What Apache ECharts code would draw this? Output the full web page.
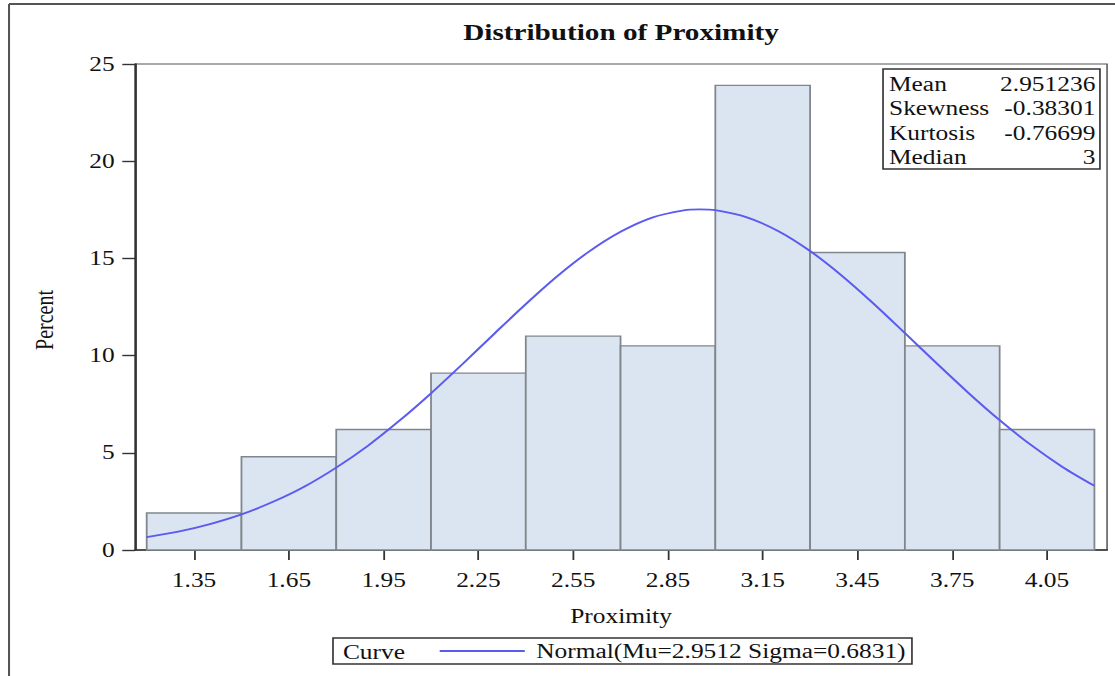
<!DOCTYPE html>
<html>
<head>
<meta charset="utf-8">
<script src="https://cdn.jsdelivr.net/npm/echarts@6/dist/echarts.min.js"></script>
<style>
  html, body { margin: 0; padding: 0; background: #fff; overflow: hidden; }
  #main { width: 878px; height: 676px; transform: scaleX(1.27); transform-origin: 0 0; }
</style>
</head>
<body>
<div id="main"></div>
<script>
// ---- data ----
const binMids = [1.35, 1.65, 1.95, 2.25, 2.55, 2.85, 3.15, 3.45, 3.75, 4.05];
const binWidth = 0.3;
const percents = [1.9, 4.8, 6.2, 9.1, 11.0, 10.5, 23.9, 15.3, 10.5, 6.2];
const curveX = [1.2, 1.3, 1.4, 1.5, 1.6, 1.7, 1.8, 1.9, 2.0, 2.1, 2.2, 2.3, 2.4, 2.5, 2.6, 2.7,
                2.8, 2.9, 2.95, 3.0, 3.1, 3.2, 3.3, 3.4, 3.5, 3.6, 3.7, 3.8, 3.9, 4.0, 4.1, 4.2];
const curveY = [0.66, 0.94, 1.33, 1.83, 2.48, 3.27, 4.24, 5.36, 6.65, 8.06, 9.57, 11.12, 12.65, 14.09, 15.35, 16.37,
                17.10, 17.47, 17.52, 17.48, 17.11, 16.40, 15.38, 14.12, 12.69, 11.16, 9.61, 8.10, 6.68, 5.39, 4.26, 3.30];
const xTickValues = [1.35, 1.65, 1.95, 2.25, 2.55, 2.85, 3.15, 3.45, 3.75, 4.05];
const xTickLabels = ['1.35', '1.65', '1.95', '2.25', '2.55', '2.85', '3.15', '3.45', '3.75', '4.05'];
const statsLabels = ['Mean', 'Skewness', 'Kurtosis', 'Median'];
const statsValues = ['2.951236', '-0.38301', '-0.76699', '3'];
const titleText = 'Distribution of Proximity';
const xName = 'Proximity';
const yName = 'Percent';
const legendTitle = 'Curve';
const curveName = 'Normal(Mu=2.9512 Sigma=0.6831)';

// ---- chart ----
const FONT = '"Liberation Serif", "DejaVu Serif", serif';
const chart = echarts.init(document.getElementById('main'), null, { renderer: 'svg' });

const barData = binMids.map((m, i) => [m - binWidth / 2, m + binWidth / 2, percents[i]]);
const lineData = curveX.map((x, i) => [x, curveY[i]]);

const statsGraphics = [];
statsGraphics.push({
  type: 'rect', shape: { x: 695.3, y: 69, width: 170.8, height: 100 },
  style: { fill: '#fff', stroke: '#333', lineWidth: 1.3 }, z: 100
});
statsLabels.forEach((lab, i) => {
  const y = 84.5 + i * 24.3;
  statsGraphics.push({
    type: 'text', x: 700, y: y, z: 101,
    style: { text: lab, font: '20px ' + FONT, fill: '#111', align: 'left', verticalAlign: 'middle' }
  });
  statsGraphics.push({
    type: 'text', x: 862.5, y: y, z: 101,
    style: { text: statsValues[i], font: '20px ' + FONT, fill: '#111', align: 'right', verticalAlign: 'middle' }
  });
});

const option = {
  backgroundColor: '#fff',
  animation: false,
  title: {
    text: titleText,
    left: 489, top: 21, textAlign: 'center', padding: 0,
    textStyle: { fontFamily: FONT, fontWeight: 'bold', fontSize: 23, color: '#111' }
  },
  grid: {
    left: 106.3, right: 6.3, top: 64, bottom: 126,
    show: true, borderColor: '#555', borderWidth: 1.2, backgroundColor: 'transparent'
  },
  legend: {
    left: 262.2, top: 638, orient: 'horizontal',
    padding: [3, 5, 3, 84],
    borderColor: '#333', borderWidth: 1.3,
    itemWidth: 67, itemHeight: 2,
    data: [{ name: curveName, icon: 'rect' }],
    textStyle: { fontFamily: FONT, fontSize: 20, color: '#111', padding: [0, 0, 0, 4] }
  },
  xAxis: {
    type: 'value', min: 1.163, max: 4.24,
    name: xName, nameLocation: 'middle', nameGap: 56,
    nameTextStyle: { fontFamily: FONT, fontSize: 20, color: '#111' },
    axisLine: { show: true, onZero: false, lineStyle: { color: '#333', width: 1.6 } },
    axisTick: { show: true, length: 10, customValues: xTickValues, lineStyle: { color: '#333', width: 1.4 } },
    axisLabel: {
      customValues: xTickValues, margin: 20,
      fontFamily: FONT, fontSize: 20, color: '#111',
      formatter: function (v) {
        const i = xTickValues.findIndex(t => Math.abs(t - v) < 1e-6);
        return i >= 0 ? xTickLabels[i] : '';
      }
    },
    splitLine: { show: false }
  },
  yAxis: {
    type: 'value', min: 0, max: 25, interval: 5,
    name: yName, nameLocation: 'middle', nameGap: 61,
    nameTextStyle: { fontFamily: FONT, fontSize: 20, color: '#111', padding: [0, 26, 0, 0] },
    axisLine: { show: true, lineStyle: { color: '#333', width: 1.6 } },
    axisTick: { show: true, length: 10, lineStyle: { color: '#333', width: 1.4 } },
    axisLabel: { margin: 16, fontFamily: FONT, fontSize: 20, color: '#111' },
    splitLine: { show: false }
  },
  series: [
    {
      name: 'Histogram',
      type: 'custom',
      data: barData,
      encode: { x: [0, 1], y: 2 },
      renderItem: function (params, api) {
        const lo = api.value(0), hi = api.value(1), v = api.value(2);
        const p0 = api.coord([lo, 0]);
        const p1 = api.coord([hi, v]);
        return {
          type: 'rect',
          shape: { x: p0[0], y: p1[1], width: p1[0] - p0[0], height: p0[1] - p1[1] },
          style: { fill: '#dbe5f1', stroke: '#80868d', lineWidth: 1.4 }
        };
      },
      z: 2
    },
    {
      name: curveName,
      type: 'line',
      data: lineData,
      smooth: 0.3,
      symbol: 'none',
      lineStyle: { color: '#5b5bef', width: 1.8 },
      itemStyle: { color: '#5b5bef' },
      z: 5
    }
  ],
  graphic: [
    { type: 'line', shape: { x1: 7.1, y1: 4, x2: 878, y2: 4 }, style: { stroke: '#555', lineWidth: 2 } },
    { type: 'line', shape: { x1: 7.1, y1: 4, x2: 7.1, y2: 676 }, style: { stroke: '#555', lineWidth: 1.6 } },
    {
      type: 'text', x: 270, y: 652, z: 100,
      style: { text: legendTitle, font: '20px ' + FONT, fill: '#111', align: 'left', verticalAlign: 'middle' }
    }
  ].concat(statsGraphics)
};
chart.setOption(option);
</script>
</body>
</html>
